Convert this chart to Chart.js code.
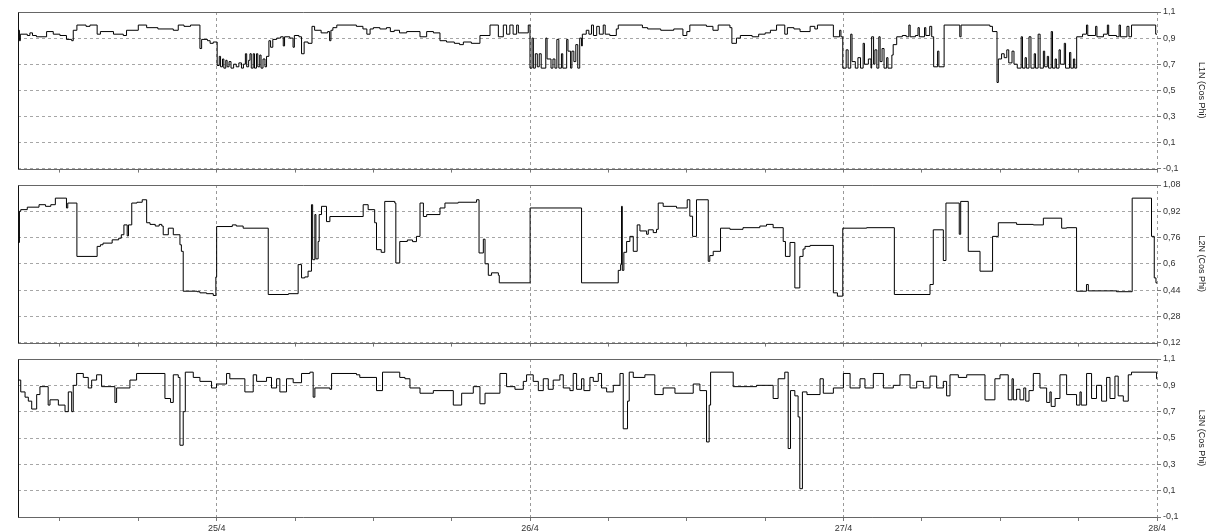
<!DOCTYPE html>
<html>
<head>
<meta charset="utf-8">
<title>Cos Phi L1N / L2N / L3N</title>
<script src="https://cdn.jsdelivr.net/npm/chart.js@4.4.1/dist/chart.umd.min.js"></script>
<style>
  html, body { margin: 0; padding: 0; background: #fff; }
  body { width: 1219px; height: 532px; position: relative; overflow: hidden; }
  canvas { position: absolute; left: 0; }
</style>
</head>
<body>
<canvas id="c1" width="1219" height="176" style="top:0px"></canvas>
<canvas id="c2" width="1219" height="174" style="top:176px"></canvas>
<canvas id="c3" width="1219" height="182" style="top:350px"></canvas>
<script>
// time in hours counted from 24/4 00:00
const l1Hours = [
  8.79, 8.9, 8.97, 9.5, 9.7, 9.9, 10.2, 10.98, 11.49, 12.0,
  12.5, 12.9, 13.02, 13.3, 14.0, 14.3, 14.85, 15.1, 16.1, 16.85,
  17.1, 18.0, 18.64, 19.5, 20.68, 21.06, 21.5, 22.0, 22.72, 22.85,
  23.3, 23.5, 23.74, 24.04, 24.2, 24.3, 24.45, 24.55, 24.7, 24.8,
  24.95, 25.1, 25.3, 25.5, 25.7, 25.9, 26.05, 26.2, 26.3, 26.45,
  26.55, 26.65, 26.8, 26.9, 27.05, 27.15, 27.3, 27.4, 27.55, 27.7,
  27.82, 28.0, 28.13, 28.3, 28.6, 28.9, 29.1, 29.2, 29.6, 29.85,
  29.95, 30.3, 30.5, 30.7, 31.0, 31.3, 31.5, 32.0, 32.5, 32.65,
  32.75, 32.9, 33.2, 34.7, 35.2, 35.5, 35.75, 36.0, 36.5, 37.0,
  37.3, 37.6, 38.0, 38.55, 39.57, 40.08, 40.6, 41.1, 41.6, 42.2,
  42.6, 42.89, 43.5, 44.16, 44.93, 45.57, 45.95, 46.2, 46.45, 46.7,
  46.97, 47.1, 47.86, 47.99, 48.15, 48.25, 48.4, 48.55, 48.7, 48.85,
  49.2, 49.3, 49.6, 49.75, 49.9, 50.05, 50.2, 50.4, 50.5, 50.8,
  50.9, 51.1, 51.2, 51.35, 51.5, 51.65, 51.8, 51.94, 52.0, 52.3,
  52.5, 52.7, 52.85, 53.1, 53.3, 53.6, 53.75, 54.1, 54.6, 54.75,
  56.6, 57.0, 58.0, 59.0, 59.7, 60.0, 60.23, 61.5, 62.0, 62.4,
  63.3, 63.45, 63.8, 64.1, 65.0, 65.5, 66.0, 66.4, 66.87, 67.5,
  67.7, 68.2, 68.67, 69.44, 69.8, 70.0, 71.22, 71.7, 71.8, 71.94,
  72.2, 72.35, 72.55, 72.65, 72.9, 73.1, 73.3, 73.5, 73.6, 73.9,
  74.1, 74.15, 74.3, 74.4, 74.55, 74.7, 74.8, 74.95, 75.1, 75.3,
  75.4, 75.7, 75.8, 76.07, 76.5, 76.8, 77.0, 77.1, 77.5, 77.7,
  77.8, 78.2, 78.3, 78.6, 78.75, 78.9, 79.2, 79.3, 79.7, 80.9,
  81.0, 83.2, 83.4, 83.75, 83.85, 84.1, 84.3, 84.5, 84.65, 84.9,
  85.05, 85.3, 85.6, 85.7, 85.9, 86.0, 86.2, 86.35, 86.6, 86.7,
  86.9, 87.05, 87.3, 87.4, 87.6, 87.7, 87.9, 88.0, 88.2, 88.3,
  88.5, 88.6, 88.9, 89.0, 89.3, 89.4, 89.6, 89.7, 89.85, 90.3,
  90.6, 90.7, 91.3, 91.4, 91.9, 92.2, 92.3, 92.9, 93.1, 93.2,
  93.7, 93.85, 94.05, 95.9, 96.0
];
const l1Values = [
  0.96, 0.88, 0.93, 0.92, 0.94, 0.92, 0.91, 0.95, 0.93, 0.92,
  0.89, 0.88, 0.96, 1.0, 0.99, 1.0, 0.93, 0.95, 0.93, 0.92,
  0.96, 1.0, 0.98, 0.97, 0.96, 1.0, 0.99, 1.0, 0.82, 0.89,
  0.88, 0.86, 0.87, 0.69, 0.76, 0.68, 0.74, 0.67, 0.73, 0.68,
  0.72, 0.67, 0.70, 0.68, 0.71, 0.67, 0.70, 0.78, 0.68, 0.73,
  0.78, 0.67, 0.78, 0.67, 0.78, 0.68, 0.77, 0.67, 0.74, 0.68,
  0.76, 0.88, 0.83, 0.89, 0.90, 0.91, 0.84, 0.91, 0.90, 0.83,
  0.92, 0.91, 0.78, 0.87, 0.86, 0.99, 0.96, 0.94, 0.95, 0.88,
  0.96, 0.98, 1.0, 0.99, 0.97, 0.93, 0.97, 0.98, 0.97, 0.98,
  0.95, 0.96, 0.94, 0.95, 0.91, 0.95, 0.94, 0.88, 0.87, 0.86,
  0.85, 0.87, 0.86, 0.92, 1.0, 0.91, 1.0, 0.93, 1.0, 0.93,
  1.0, 0.94, 1.0, 0.67, 0.9, 0.67, 0.78, 0.68, 0.78, 0.67,
  0.9, 0.74, 0.67, 0.74, 0.67, 0.89, 0.67, 0.78, 0.67, 0.89,
  0.8, 0.67, 0.8, 0.72, 0.85, 0.67, 0.9, 0.84, 0.93, 0.96,
  0.93, 1.0, 0.92, 0.99, 0.93, 1.0, 0.93, 0.92, 0.97, 1.0,
  0.98, 0.97, 0.96, 0.97, 0.92, 0.95, 1.0, 0.99, 0.96, 1.0,
  0.98, 0.86, 0.90, 0.92, 0.91, 0.93, 0.94, 0.96, 1.0, 0.93,
  0.98, 0.97, 0.95, 0.99, 0.97, 1.0, 0.91, 0.96, 0.91, 0.67,
  0.81, 0.67, 0.93, 0.72, 0.67, 0.75, 0.67, 0.86, 0.70, 0.74,
  0.67, 0.91, 0.70, 0.81, 0.67, 0.91, 0.72, 0.82, 0.67, 0.75,
  0.67, 0.77, 0.85, 0.91, 0.92, 0.91, 1.0, 0.91, 0.92, 0.98,
  0.91, 0.98, 0.92, 0.99, 0.91, 0.68, 0.80, 0.68, 1.0, 0.91,
  1.0, 0.99, 0.95, 0.56, 0.74, 0.78, 0.75, 0.81, 0.71, 0.80,
  0.70, 0.67, 0.91, 0.67, 0.75, 0.67, 0.91, 0.67, 0.78, 0.67,
  0.93, 0.67, 0.80, 0.68, 0.76, 0.67, 0.95, 0.67, 0.74, 0.67,
  0.81, 0.70, 0.86, 0.67, 0.79, 0.67, 0.74, 0.67, 0.91, 0.93,
  1.0, 0.92, 0.99, 0.91, 0.93, 1.0, 0.92, 0.91, 1.0, 0.91,
  0.99, 0.91, 1.0, 0.93, 0.93
];

const l2Hours = [
  8.79, 8.9, 9.0, 9.5, 10.4, 10.9, 11.3, 11.65, 12.5, 12.6,
  13.3, 14.85, 15.1, 15.3, 16.0, 16.5, 16.7, 16.9, 17.15, 17.25,
  17.5, 17.9, 18.3, 18.64, 18.9, 19.3, 19.6, 19.8, 19.91, 20.3,
  20.68, 21.19, 21.3, 21.44, 22.5, 22.72, 23.23, 23.74, 23.94, 24.0,
  25.2, 25.5, 26.03, 27.95, 29.5, 30.24, 30.5, 30.75, 31.0, 31.26,
  31.35, 31.52, 31.6, 31.77, 31.85, 32.03, 32.41, 32.67, 35.22, 35.6,
  36.1, 36.24, 36.6, 36.87, 37.64, 37.72, 38.02, 38.6, 39.0, 39.3,
  39.57, 39.83, 40.08, 41.1, 41.48, 42.5, 43.9, 44.09, 44.42, 44.55,
  44.8, 45.05, 45.57, 45.64, 48.0, 51.94, 54.75, 54.93, 55.0, 55.06,
  55.18, 55.39, 55.64, 55.9, 56.2, 56.41, 56.92, 57.05, 57.43, 57.68,
  57.81, 58.19, 59.21, 60.03, 60.23, 60.44, 60.74, 61.64, 61.76, 62.02,
  62.58, 63.3, 64.3, 65.59, 66.1, 66.61, 67.38, 67.55, 67.9, 68.27,
  68.65, 68.9, 69.05, 69.44, 71.22, 71.53, 71.94, 73.77, 75.89, 78.62,
  78.87, 79.64, 79.84, 80.86, 80.97, 81.55, 82.45, 83.41, 83.85, 85.25,
  86.53, 87.3, 88.7, 89.08, 89.84, 90.6, 90.74, 92.9, 94.1, 95.58,
  95.79, 95.92, 96.0
];
const l2Values = [
  0.73, 0.92, 0.93, 0.945, 0.96, 0.95, 0.96, 1.0, 0.94, 0.97,
  0.645, 0.706, 0.716, 0.726, 0.746, 0.756, 0.777, 0.837, 0.77, 0.837,
  0.97, 0.975, 0.99, 0.85, 0.84, 0.83, 0.84, 0.83, 0.777, 0.817,
  0.777, 0.716, 0.676, 0.433, 0.43, 0.423, 0.418, 0.407, 0.52, 0.827,
  0.837, 0.83, 0.817, 0.413, 0.418, 0.595, 0.514, 0.52, 0.555, 0.96,
  0.625, 0.9, 0.63, 0.736, 0.9, 0.95, 0.857, 0.888, 0.96, 0.93,
  0.85, 0.686, 0.67, 0.98, 0.97, 0.605, 0.736, 0.745, 0.735, 0.767,
  0.97, 0.888, 0.9, 0.94, 0.97, 0.975, 0.99, 0.666, 0.75, 0.60,
  0.53, 0.545, 0.53, 0.484, 0.94, 0.484, 0.56, 0.595, 0.95, 0.56,
  0.67, 0.736, 0.767, 0.676, 0.837, 0.80, 0.78, 0.807, 0.79, 0.81,
  0.97, 0.95, 0.94, 0.99, 0.89, 0.767, 0.99, 0.615, 0.65, 0.676,
  0.817, 0.81, 0.82, 0.83, 0.84, 0.82, 0.736, 0.645, 0.73, 0.453,
  0.645, 0.69, 0.706, 0.712, 0.423, 0.403, 0.817, 0.82, 0.413, 0.474,
  0.807, 0.62, 0.97, 0.78, 0.98, 0.676, 0.555, 0.767, 0.85, 0.84,
  0.837, 0.878, 0.817, 0.82, 0.433, 0.474, 0.435, 0.43, 1.0, 0.767,
  0.514, 0.484, 0.48
];

const l3Hours = [
  8.79, 9.0, 9.33, 9.58, 9.84, 10.22, 10.47, 11.1, 11.24, 11.88,
  12.39, 12.64, 12.9, 13.02, 13.28, 13.79, 14.17, 14.43, 14.81, 15.19,
  16.21, 16.34, 17.36, 17.87, 20.04, 20.47, 20.68, 21.06, 21.19, 21.44,
  21.6, 22.21, 22.72, 23.61, 23.99, 24.76, 25.01, 26.16, 26.8, 27.06,
  27.82, 28.2, 28.59, 28.84, 29.35, 29.86, 30.5, 31.14, 31.39, 31.52,
  32.67, 32.8, 34.71, 34.96, 36.24, 36.7, 38.02, 38.42, 38.8, 39.57,
  40.59, 42.12, 42.76, 43.65, 44.16, 44.55, 45.69, 46.2, 46.84, 47.48,
  47.73, 48.24, 48.63, 49.01, 49.39, 49.77, 50.28, 50.54, 51.05, 51.3,
  51.56, 51.94, 52.12, 52.58, 52.84, 53.22, 53.47, 53.86, 54.37, 54.88,
  55.13, 55.46, 55.59, 55.9, 56.79, 57.55, 58.19, 59.09, 60.49, 61.0,
  61.51, 61.71, 61.82, 63.55, 65.34, 66.61, 66.99, 67.5, 67.76, 67.94,
  68.27, 68.52, 68.65, 68.85, 69.2, 70.2, 70.45, 71.22, 71.99, 72.5,
  73.26, 73.64, 74.28, 75.05, 75.81, 76.32, 77.09, 77.6, 78.11, 78.62,
  79.13, 79.64, 79.89, 80.15, 80.79, 81.43, 82.83, 83.59, 83.98, 84.61,
  84.9, 85.0, 85.25, 85.51, 85.8, 85.95, 86.2, 86.53, 87.04, 87.55,
  87.8, 87.9, 88.2, 88.57, 89.08, 89.84, 90.1, 90.2, 90.61, 90.99,
  91.37, 91.76, 92.14, 92.4, 92.78, 93.03, 93.42, 93.8, 94.05, 95.97,
  96.0
];
const l3Values = [
  0.94, 0.85, 0.81, 0.78, 0.72, 0.83, 0.89, 0.75, 0.79, 0.75,
  0.70, 0.85, 0.70, 0.90, 0.99, 0.96, 0.88, 0.94, 0.98, 0.89,
  0.77, 0.88, 0.94, 0.99, 0.80, 0.77, 0.98, 0.96, 0.445, 0.70,
  1.0, 0.96, 0.93, 0.88, 0.91, 0.99, 0.95, 0.85, 0.98, 0.93,
  0.96, 0.88, 0.95, 0.85, 0.95, 0.92, 0.99, 1.0, 0.81, 0.88,
  0.87, 0.99, 0.98, 0.96, 0.86, 1.0, 0.96, 0.95, 0.88, 0.84,
  0.86, 0.75, 0.84, 0.89, 0.76, 0.84, 0.99, 0.89, 0.87, 0.93,
  0.98, 0.93, 0.86, 0.95, 0.87, 0.94, 0.98, 0.88, 0.86, 0.99,
  0.87, 0.95, 0.86, 0.96, 0.93, 0.99, 0.88, 0.85, 0.90, 0.99,
  0.57, 0.78, 1.0, 0.96, 0.98, 0.83, 0.88, 0.84, 0.91, 0.86,
  0.47, 0.75, 1.0, 0.89, 0.90, 0.80, 0.95, 1.0, 0.42, 0.86,
  0.82, 0.66, 0.115, 0.85, 0.83, 0.95, 0.84, 0.88, 0.99, 0.88,
  0.95, 0.88, 0.99, 0.88, 0.9, 0.98, 0.88, 0.93, 0.88, 0.97,
  0.88, 0.93, 0.82, 0.98, 0.96, 0.98, 0.79, 0.95, 0.98, 0.79,
  0.95, 0.79, 0.87, 0.79, 0.88, 0.78, 0.86, 0.99, 0.88, 0.77,
  0.85, 0.74, 0.80, 0.98, 0.83, 0.75, 0.85, 0.75, 0.99, 0.80,
  0.90, 0.78, 0.96, 0.80, 0.97, 0.82, 0.78, 0.98, 1.0, 0.95,
  0.95
];

const dayLabels = ['25/4', '26/4', '27/4', '28/4'];
const axisTitles = ['L1N (Cos Phi)', 'L2N (Cos Phi)', 'L3N (Cos Phi)'];
const startHour = 8.79;
const endHour = 96;

Chart.defaults.font.family = '"Liberation Sans", Arial, sans-serif';
Chart.defaults.font.size = 9;

// plain frame on left, top and bottom of the plot area
const framePlugin = {
  id: 'frame',
  beforeDatasetsDraw(chart) {
    const { ctx, chartArea: a } = chart;
    const l = Math.round(a.left) + 0.5, r = Math.round(a.right) + 0.5;
    const t = Math.round(a.top) + 0.5, b = Math.round(a.bottom) + 0.5;
    ctx.save();
    ctx.lineWidth = 1;
    ctx.strokeStyle = '#666';
    ctx.beginPath();
    ctx.moveTo(l, t); ctx.lineTo(r, t);
    ctx.moveTo(l, b); ctx.lineTo(r, b);
    ctx.stroke();
    ctx.strokeStyle = '#111';
    ctx.beginPath();
    ctx.moveTo(l, t); ctx.lineTo(l, b);
    ctx.stroke();
    ctx.restore();
  }
};

function fmt(v) {
  return String(Math.round(v * 100) / 100).replace('.', ',');
}

function makeChart(id, hours, values, title, yMin, yMax, yStep, padTop, xHeight, showDates) {
  return new Chart(document.getElementById(id), {
    type: 'line',
    data: {
      datasets: [{
        data: hours.map((h, i) => ({ x: h, y: values[i] })),
        borderColor: '#000',
        borderWidth: 1,
        stepped: true,
        pointRadius: 0,
        fill: false
      }]
    },
    options: {
      responsive: false,
      animation: false,
      layout: { padding: { left: 18, top: padTop, right: 0, bottom: 0 } },
      plugins: { legend: { display: false }, tooltip: { enabled: false } },
      scales: {
        x: {
          type: 'linear',
          min: startHour,
          max: endHour,
          afterFit: s => { s.height = xHeight; },
          ticks: {
            stepSize: 6,
            includeBounds: false,
            autoSkip: false,
            maxRotation: 0,
            padding: 2,
            color: '#333',
            callback: v => (showDates && v % 24 === 0) ? dayLabels[v / 24 - 1] : ''
          },
          grid: {
            color: c => (c.tick && c.tick.value % 24 === 0) ? '#999' : 'rgba(0,0,0,0)',
            tickColor: '#777',
            tickLength: 4
          },
          border: { display: false, dash: [3, 3] }
        },
        y: {
          position: 'right',
          min: yMin,
          max: yMax,
          afterFit: s => { s.width = 62; },
          ticks: { stepSize: yStep, padding: 2, color: '#333', callback: v => fmt(v) },
          grid: { color: '#a6a6a6', tickColor: '#777', tickLength: 4 },
          border: { display: false, dash: [3, 3] },
          title: {
            display: true,
            text: title,
            color: '#222',
            padding: { top: 12, bottom: 0 }
          }
        }
      }
    },
    plugins: [framePlugin]
  });
}

makeChart('c1', l1Hours, l1Values, axisTitles[0], -0.1, 1.1, 0.2, 12, 7, false);
makeChart('c2', l2Hours, l2Values, axisTitles[1], 0.12, 1.08, 0.16, 9, 7, false);
makeChart('c3', l3Hours, l3Values, axisTitles[2], -0.1, 1.1, 0.2, 9, 15, true);
</script>
</body>
</html>
